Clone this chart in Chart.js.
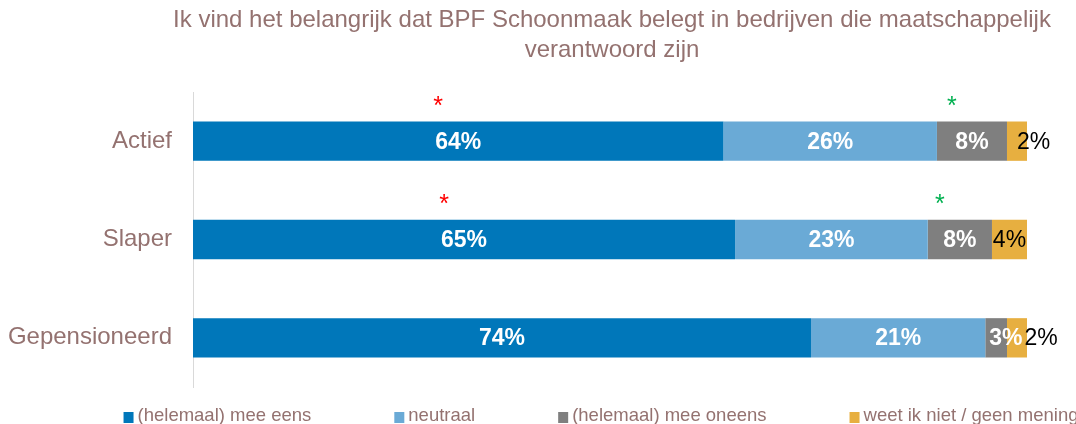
<!DOCTYPE html>
<html>
<head>
<meta charset="utf-8">
<script src="https://cdn.jsdelivr.net/npm/chart.js@4"></script>
<style>
  html, body { margin: 0; padding: 0; background: #fff; }
  #wrap { width: 1076px; height: 424px; }
</style>
</head>
<body>
<div id="wrap"><canvas id="chart" width="1076" height="424"></canvas></div>
<script>
// Data (percentages)
const categories = ['Actief', 'Slaper', 'Gepensioneerd'];
const seriesNames = ['(helemaal) mee eens', 'neutraal', '(helemaal) mee oneens', 'weet ik niet / geen mening'];
const meeEens = [63.6, 65.0, 74.1];
const neutraal = [25.6, 23.1, 20.9];
const meeOneens = [8.4, 7.7, 2.6];
const weetNiet = [2.4, 4.2, 2.4];
const titleLines = ['Ik vind het belangrijk dat BPF Schoonmaak belegt in bedrijven die maatschappelijk', 'verantwoord zijn'];

// Significance markers: which category / series, and direction
const sigCategories = ['Actief', 'Actief', 'Slaper', 'Slaper'];
const sigSeries = [0, 2, 0, 2];
const sigDirection = ['lager', 'hoger', 'lager', 'hoger'];

const FONT = "'Liberation Sans', Arial, sans-serif";
const MAUVE = '#947270';
const colors = ['#0077BA', '#6AAAD6', '#7F7F7F', '#E7AF40'];
const sigColors = { lager: '#FF0000', hoger: '#00B050' };

// Title over the plot area (Chart.js would squeeze it to the area width)
const plotTitle = {
    id: 'plotTitle',
    afterDraw(chart) {
        const ctx = chart.ctx;
        const area = chart.chartArea;
        ctx.save();
        ctx.font = '24px ' + FONT;
        ctx.fillStyle = MAUVE;
        ctx.textAlign = 'center';
        ctx.textBaseline = 'alphabetic';
        const cx = (area.left + area.right) / 2 + 2;
        titleLines.forEach((line, i) => ctx.fillText(line, cx, 27 + i * 30));
        ctx.restore();
    }
};

// Percent labels inside the segments
const segmentLabels = {
    id: 'segmentLabels',
    afterDatasetsDraw(chart) {
        const ctx = chart.ctx;
        const prevEnd = categories.map(() => 0);
        ctx.save();
        ctx.textBaseline = 'middle';
        ctx.textAlign = 'left';
        chart.data.datasets.forEach((ds, di) => {
            const meta = chart.getDatasetMeta(di);
            const last = di === chart.data.datasets.length - 1;
            ctx.font = (last ? '' : 'bold ') + '23px ' + FONT;
            ctx.fillStyle = last ? '#000' : '#fff';
            meta.data.forEach((bar, i) => {
                const text = Math.round(ds.data[i]) + '%';
                const w = bar.x - bar.base;
                const tw = ctx.measureText(text).width;
                let left = (bar.x + bar.base) / 2 - tw / 2;
                if (tw > w) {
                    // too narrow: let the label run out to the right
                    left = last ? Math.max(bar.x - 10, prevEnd[i] + 2) : bar.base + 4;
                }
                ctx.fillText(text, left, bar.y + 1);
                prevEnd[i] = left + tw;
            });
        });
        ctx.restore();
    }
};

// Red / green asterisks above the segments
const sigMarkers = {
    id: 'sigMarkers',
    afterDatasetsDraw(chart) {
        const ctx = chart.ctx;
        ctx.save();
        ctx.font = '25px ' + FONT;
        ctx.textAlign = 'center';
        ctx.textBaseline = 'alphabetic';
        sigCategories.forEach((cat, k) => {
            const idx = categories.indexOf(cat);
            const bar = chart.getDatasetMeta(sigSeries[k]).data[idx];
            const mid = (bar.x + bar.base) / 2 - 20;
            const top = bar.y - bar.height / 2;
            ctx.fillStyle = sigColors[sigDirection[k]];
            ctx.fillText('*', mid, top - 8);
        });
        ctx.restore();
    }
};

// Legend drawn along the bottom, roughly centred on the plot area
const bottomLegend = {
    id: 'bottomLegend',
    afterDraw(chart) {
        const ctx = chart.ctx;
        const area = chart.chartArea;
        const gap = 83;
        ctx.save();
        ctx.font = '18.5px ' + FONT;
        ctx.textBaseline = 'alphabetic';
        ctx.textAlign = 'left';
        const widths = seriesNames.map(n => 14 + ctx.measureText(n).width);
        const total = widths.reduce((a, b) => a + b, 0) + gap * (widths.length - 1);
        let x = (area.left + area.right) / 2 - total / 2 - 9;
        seriesNames.forEach((name, i) => {
            ctx.fillStyle = colors[i];
            ctx.fillRect(x, 412, 10, 11);
            ctx.fillStyle = MAUVE;
            ctx.fillText(name, x + 14, 421);
            x += widths[i] + gap;
        });
        ctx.restore();
    }
};

const seriesData = [meeEens, neutraal, meeOneens, weetNiet];

new Chart(document.getElementById('chart'), {
    type: 'bar',
    data: {
        labels: categories,
        datasets: seriesData.map((d, i) => ({
            label: seriesNames[i],
            data: d,
            backgroundColor: colors[i],
            borderWidth: 0,
            categoryPercentage: 1,
            barPercentage: 0.4
        }))
    },
    options: {
        indexAxis: 'y',
        responsive: false,
        animation: false,
        layout: { padding: { top: 92, right: 49, bottom: 37, left: 0 } },
        plugins: {
            legend: { display: false },
            tooltip: { enabled: false },
            title: { display: false }
        },
        scales: {
            x: {
                stacked: true,
                min: 0,
                max: 100,
                display: false
            },
            y: {
                stacked: true,
                grid: { display: false, drawTicks: false },
                border: { display: true, color: '#D9D9D9', width: 1 },
                ticks: { color: MAUVE, font: { family: FONT, size: 24 }, padding: 21 },
                afterFit(scale) { scale.width = 193; }
            }
        }
    },
    plugins: [segmentLabels, sigMarkers, bottomLegend, plotTitle]
});
</script>
</body>
</html>
